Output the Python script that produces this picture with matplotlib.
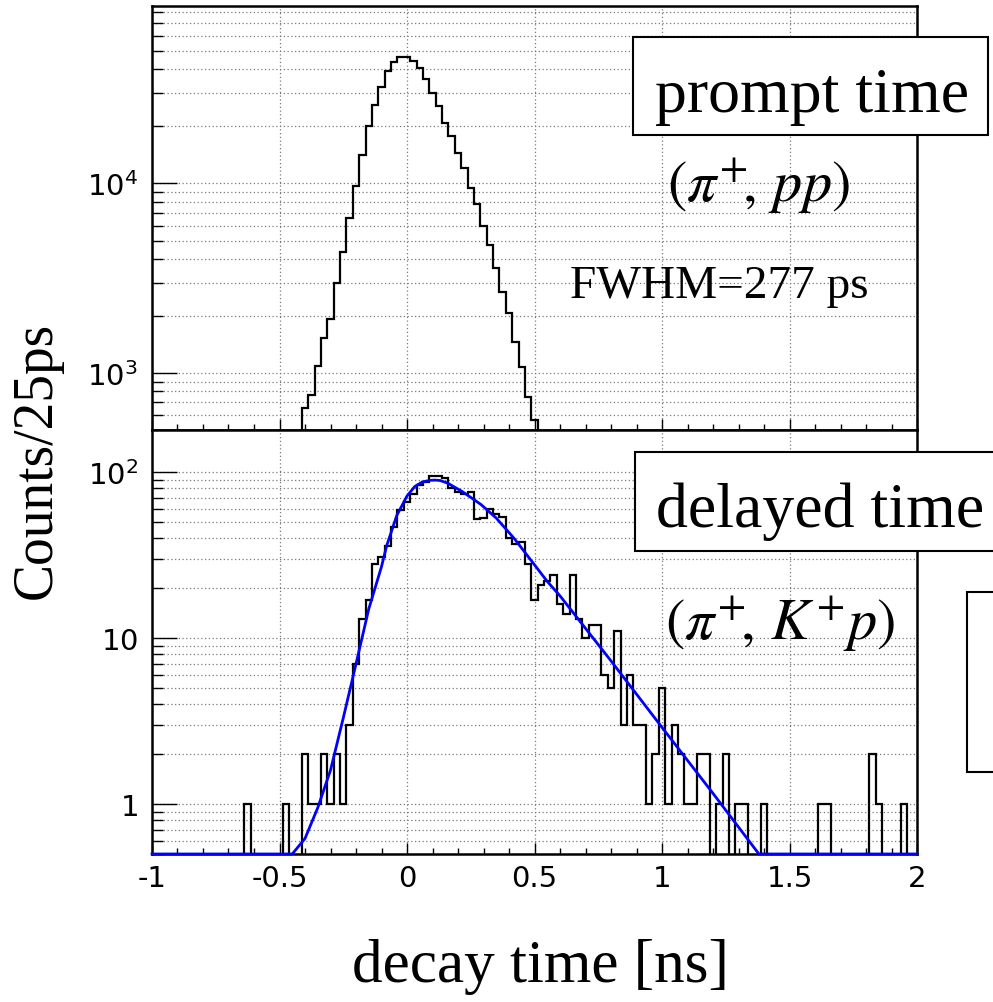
import matplotlib
matplotlib.use('Agg')
import matplotlib.pyplot as plt
import matplotlib.ticker as mticker
from matplotlib.patches import Rectangle
import numpy as np

plt.rcParams['font.family'] = 'Liberation Serif'
plt.rcParams['mathtext.fontset'] = 'dejavusans'
plt.rcParams['axes.unicode_minus'] = False

# ---- data ----
bin_width = 0.025  # ns, 25 ps bins

# prompt (pi+, pp) histogram, first bin centred at -0.4 ns
prompt_first_center = -0.4
prompt_counts = [655, 761, 1085, 1521, 1920, 2980, 4350, 6550, 9640, 14200,
                 20000, 26100, 32300, 39400, 43500, 46500, 46500, 44300, 40800, 35500,
                 30100, 25600, 20900, 17700, 14400, 12100, 9520, 7770, 5960, 4760,
                 3580, 2670, 2070, 1460, 1077, 746, 565]

# delayed (pi+, K+p) histogram, bins centred from -1.0 to 2.0 ns
delayed_first_center = -1.0
delayed_counts = [0, 0, 0, 0, 0, 0, 0, 0, 0, 0, 0, 0, 0, 0, 0,
                  1, 0, 0, 0, 0, 0, 1, 0, 0,
                  2, 1, 1, 2, 1, 2, 1, 3, 7, 13, 17, 28, 31, 36, 47, 59,
                  66, 74, 84, 88, 95, 95, 92, 80, 76, 74, 76,
                  52, 53, 60, 56, 54, 40, 37, 38, 28, 17,
                  21, 22, 24, 16, 14, 24, 13, 10, 12, 12,
                  6, 5, 11, 3, 6, 3, 3, 1, 2, 5,
                  1, 3, 2, 1, 1, 2, 2, 0, 1, 2,
                  0, 1, 1, 0, 0, 1, 0, 0, 0, 0,
                  0, 0, 0, 0, 1, 1, 0, 0, 0, 0,
                  0, 0, 2, 1, 0, 0, 0, 1, 0, 0]

# fitted decay curve (blue)
fit_t = [-1.0, -0.45, -0.40, -0.35, -0.30, -0.25, -0.20, -0.15, -0.10, -0.08,
         -0.04, 0.0, 0.03, 0.06, 0.09, 0.11, 0.13, 0.16, 0.22, 0.29,
         0.35, 0.42, 0.49, 0.55, 0.60, 0.80, 1.00, 1.20, 1.38, 2.0]
fit_v = [0.5, 0.5, 0.62, 0.95, 1.6, 3.3, 7.0, 15, 27, 36,
         55, 72, 82, 87.5, 89.5, 89.8, 89.3, 86, 76, 64,
         53, 40, 29, 22, 18, 7.3, 2.9, 1.16, 0.5, 0.5]

x_ticks = [-1, -0.5, 0, 0.5, 1, 1.5, 2]
top_ylim = (500, 8.64e4)
bot_ylim = (0.5, 180)

W, H = 993, 1003


def fig_rect(x0, y0, x1, y1):
    # pixel box (top-left origin) -> figure fraction [l, b, w, h]
    return [x0 / W, 1 - y1 / H, (x1 - x0) / W, (y1 - y0) / H]


def fpt(x, y):
    return x / W, 1 - y / H


def ylabel_fmt(v, pos):
    # keep the base digits lined up, as if an exponent followed
    if v == 1:
        return r'$1\enspace$'
    if v == 10:
        return r'$10\enspace$'
    return r'$10^{%d}$' % round(np.log10(v))


def style_axis(ax, ylim):
    ax.set_xlim(-1, 2)
    ax.set_yscale('log')
    ax.set_ylim(*ylim)
    ax.xaxis.set_major_locator(mticker.FixedLocator(x_ticks))
    ax.xaxis.set_minor_locator(mticker.MultipleLocator(0.1))
    ax.xaxis.set_major_formatter(mticker.FuncFormatter(lambda v, p: '%g' % v))
    ax.yaxis.set_major_locator(mticker.LogLocator(base=10))
    ax.yaxis.set_minor_locator(mticker.LogLocator(base=10, subs=np.arange(2, 10)))
    ax.yaxis.set_major_formatter(mticker.FuncFormatter(ylabel_fmt))
    ax.yaxis.set_minor_formatter(mticker.NullFormatter())
    grid_kw = dict(color='#7a7a7a', linestyle=(0, (1, 2)), linewidth=0.9)
    ax.xaxis.grid(True, which='major', **grid_kw)
    ax.yaxis.grid(True, which='both', **grid_kw)
    ax.set_axisbelow(True)
    ax.tick_params(axis='both', which='both', direction='in', width=1.0,
                   labelsize=21, labelfontfamily='DejaVu Sans')
    ax.tick_params(axis='y', which='major', length=18, pad=10)
    ax.tick_params(axis='y', which='minor', length=8)
    ax.tick_params(axis='x', which='major', length=8, pad=7)
    ax.tick_params(axis='x', which='minor', length=4)
    for sp in ax.spines.values():
        sp.set_linewidth(1.8)


fig = plt.figure(figsize=(W / 100, H / 100), dpi=100)
ax_top = fig.add_axes(fig_rect(152, 7, 917, 431))
ax_bot = fig.add_axes(fig_rect(152, 431, 917, 855))

# top: prompt time
style_axis(ax_top, top_ylim)
edges_p = prompt_first_center - bin_width / 2 + bin_width * np.arange(len(prompt_counts) + 1)
ax_top.stairs(prompt_counts, edges_p, baseline=100, color='black', linewidth=1.6)
ax_top.tick_params(labelbottom=False)

# bottom: delayed time with fit
style_axis(ax_bot, bot_ylim)
counts = np.array(delayed_counts, dtype=float)
edges_d = delayed_first_center - bin_width / 2 + bin_width * np.arange(len(counts) + 1)
shown = np.where(counts > 0, counts, 0.3)
ax_bot.stairs(shown, edges_d, baseline=0.3, color='black', linewidth=1.6)
ax_bot.plot(fit_t, np.clip(fit_v, bot_ylim[0], None), color='#0000ff',
            linewidth=2.0, clip_on=False, zorder=4)

# axis titles
fig.text(*fpt(37, 460), 'Counts/25ps', rotation=90, ha='center', va='center', fontsize=40)
fig.text(*fpt(540, 982), 'decay time [ns]', ha='center', va='baseline', fontsize=44)

# boxed labels
box_kw = dict(transform=fig.transFigure, facecolor='white', edgecolor='black',
              linewidth=1.5, zorder=5)
for x0, y0, x1, y1 in [(633, 38, 988, 136), (635, 453, 1010, 552), (967, 593, 1010, 773)]:
    r = fig_rect(x0, y0, x1, y1)
    fig.add_artist(Rectangle((r[0], r[1]), r[2], r[3], **box_kw))

fig.text(*fpt(655, 112), 'prompt time', ha='left', va='baseline', fontsize=46, zorder=6)
fig.text(*fpt(656, 527), 'delayed time', ha='left', va='baseline', fontsize=46, zorder=6)

fig.text(*fpt(667, 202), r'$(\pi^{+}\!,\,pp)$', ha='left', va='baseline',
         fontsize=42, math_fontfamily='stix', zorder=6)
fig.text(*fpt(570, 298), 'FWHM=277 ps', ha='left', va='baseline', fontsize=34, zorder=6)
fig.text(*fpt(665, 640), r'$(\pi^{+}\!,\,K^{+}p)$', ha='left', va='baseline',
         fontsize=42, math_fontfamily='stix', zorder=6)

fig.savefig('out.png', dpi=100)
